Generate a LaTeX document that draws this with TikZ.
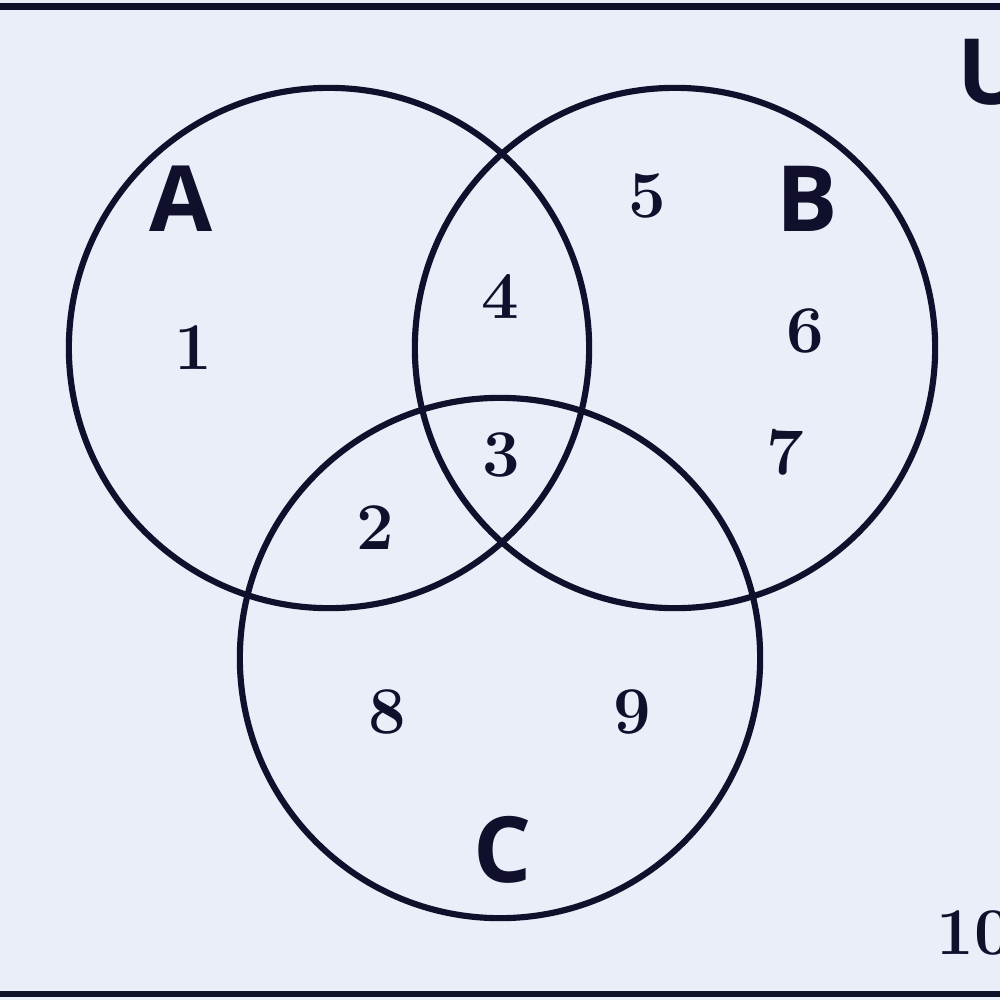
\documentclass[tikz,border=0pt]{standalone}
\usepackage{fontspec}
\newfontfamily\lblfont{Open Sans}
\definecolor{bgc}{HTML}{E9EEF8}
\definecolor{ink}{HTML}{10102C}
\begin{document}
\begin{tikzpicture}[x=0.01cm,y=-0.01cm,
  setline/.style={draw=ink,line width=1.75pt},
  setlbl/.style={text=ink,font=\lblfont\bfseries\fontsize{26}{30}\selectfont,inner sep=0pt},
  elem/.style={text=ink,font=\bfseries\fontsize{19}{22}\selectfont,inner sep=0pt}]
\useasboundingbox (0,0) rectangle (1000,1000);
\fill[bgc] (0,0) rectangle (1000,1000);
\draw[setline] (-20,6.5) rectangle (1020,994);
\node[setline,circle,minimum size=5.2cm,inner sep=0pt] (A) at (329,348) {};
\node[setline,circle,minimum size=5.2cm,inner sep=0pt] (B) at (675,348) {};
\node[setline,circle,minimum size=5.2cm,inner sep=0pt] (C) at (500,658) {};
\node[setlbl] (lA) at (181,199) {A};
\node[setlbl] (lB) at (807,199) {B};
\node[setlbl] (lC) at (503,850) {C};
\node[setlbl] (lU) at (992,72) {U};
\node[elem] (e1) at (193,348) {1};
\node[elem] (e2) at (375,528) {2};
\node[elem] (e3) at (501,455) {3};
\node[elem] (e4) at (500,297) {4};
\node[elem] (e5) at (647,196) {5};
\node[elem] (e6) at (805,331) {6};
\node[elem] (e7) at (785,452) {7};
\node[elem] (e8) at (387,712) {8};
\node[elem] (e9) at (632,712) {9};
\node[elem] (e10) at (974,933) {10};
\end{tikzpicture}
\end{document}
